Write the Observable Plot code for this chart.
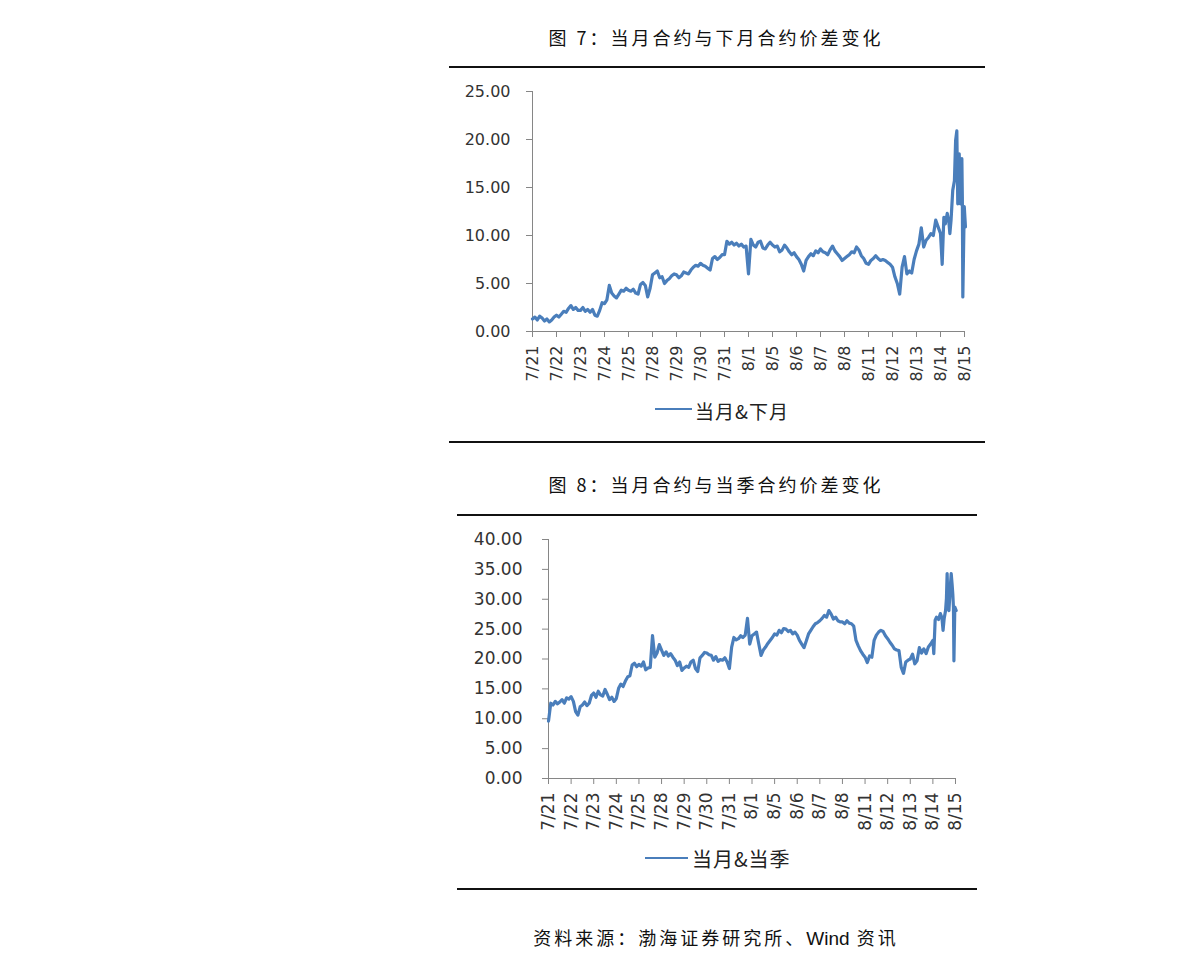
<!DOCTYPE html>
<html>
<head>
<meta charset="utf-8">
<script src="https://cdn.jsdelivr.net/npm/d3@7"></script>
<script src="https://cdn.jsdelivr.net/npm/@observablehq/plot@0.6"></script>
<style>
  html, body { margin: 0; padding: 0; background: #fff; }
  body { width: 1191px; height: 969px; position: relative; overflow: hidden; }
  .title { font-family: "Noto Sans CJK SC", sans-serif; font-size: 18px; letter-spacing: 3px; color: #111; white-space: pre; transform: translate(-50%, -50%); line-height: 1; }
  .tight { letter-spacing: 0; font-family: "Liberation Sans", sans-serif; font-size: 19px; }
  .rule { height: 0; border-top: 2px solid #111; }
  .legend { font-family: "Noto Sans CJK SC", sans-serif; color: #222; white-space: pre; line-height: 1; transform: translateY(-50%); letter-spacing: 1px; }
  .legline { height: 0; border-top: 2px solid #4A7EBB; }
</style>
</head>
<body>
<script>
// x-axis category labels (trading days)
const days = ["7/21","7/22","7/23","7/24","7/25","7/28","7/29","7/30","7/31","8/1","8/5","8/6","8/7","8/8","8/11","8/12","8/13","8/14","8/15"];

// 图7: 当月&下月 spread, sampled every 0.1 trading day from 7/21 through 8/13
const nextMonthSpread = [
  1.3,1.5,1.2,1.6,1.4,1.1,1.3,1.0,1.2,1.5,
  1.7,1.5,1.8,2.1,2.0,2.4,2.7,2.3,2.5,2.2,
  2.2,2.5,2.1,2.3,2.0,2.3,1.7,1.6,2.2,3.0,
  2.9,3.3,4.8,4.0,3.7,3.5,3.9,4.3,4.2,4.5,
  4.3,4.2,4.4,4.0,3.9,4.9,5.1,4.8,3.6,4.5,
  5.9,6.1,6.3,5.6,5.7,5.0,5.3,5.5,5.8,6.0,
  5.9,5.6,5.8,6.2,6.1,6.0,6.4,6.7,6.9,6.8,
  7.1,6.9,6.8,6.6,6.4,7.6,7.8,7.5,7.7,8.0,
  8.0,9.4,9.1,9.3,9.0,9.2,8.9,9.1,8.8,8.9,
  6.0,9.6,9.0,8.8,9.3,9.4,8.7,8.6,9.0,9.3,
  9.0,8.8,8.9,8.3,8.5,9.0,8.7,8.3,8.0,8.2,
  7.8,7.5,7.0,6.3,7.4,7.8,8.1,7.9,8.4,8.2,
  8.6,8.3,8.2,8.0,8.5,8.9,8.4,8.1,7.8,7.4,
  7.6,7.8,8.0,8.3,8.2,8.8,8.5,7.9,7.6,7.1,
  7.0,7.4,7.6,7.9,7.6,7.4,7.5,7.4,7.2,7.0,
  6.7,5.7,5.0,3.9,6.7,7.8,6.0,6.3,6.1,7.5,
  8.4,9.1,10.8,8.8,9.5,9.8,10.2,10.0,11.6,10.9
];
// 图7: last two sessions (8/14 – 8/15), [day position, value]
const nextMonthEnd = [
  [17.0,10.2],[17.07,7.0],[17.14,11.9],[17.2,11.2],[17.28,12.3],[17.35,11.4],[17.39,10.2],[17.44,11.6],
  [17.51,14.7],[17.58,15.7],[17.63,19.9],[17.68,20.9],[17.72,13.3],[17.75,16.0],[17.78,18.5],[17.83,13.3],
  [17.86,16.5],[17.89,18.0],[17.91,14.0],[17.93,3.6],[17.99,13.0],[18.04,10.9]
];

// 图8: 当月&当季 spread, sampled every 0.1 trading day from 7/21 through 8/13
const quarterSpread = [
  9.6,12.6,12.3,12.9,12.5,12.8,13.2,12.6,13.5,13.3,
  13.7,12.9,11.2,10.6,12.0,12.3,12.8,12.2,12.6,13.9,
  14.3,13.6,14.6,14.0,13.8,14.9,14.1,13.2,13.6,12.9,
  13.4,15.1,15.8,15.4,16.3,17.0,17.2,19.0,19.3,18.7,
  19.1,18.8,19.5,18.2,18.5,18.6,23.9,20.3,21.0,22.4,
  21.5,20.6,21.2,20.5,20.9,20.3,19.8,18.9,19.5,18.1,
  18.5,18.8,18.6,19.5,19.8,18.4,17.9,20.2,20.6,21.1,
  21.0,20.7,20.6,19.8,20.4,19.6,19.9,19.8,20.2,19.5,
  18.4,22.0,23.6,23.2,23.4,23.9,23.6,24.0,26.8,22.5,
  23.9,24.2,24.5,22.5,20.6,21.5,22.0,22.6,23.1,23.6,
  24.2,24.0,24.8,24.4,25.1,25.0,24.6,24.8,24.2,24.5,
  24.0,23.1,22.5,21.9,23.0,24.2,24.8,25.4,25.9,26.1,
  26.4,26.8,27.3,27.0,28.1,27.5,26.7,27.0,26.4,26.2,
  26.2,25.9,26.4,26.0,25.9,25.5,23.1,22.2,21.4,20.8,
  20.3,19.4,20.5,20.3,23.1,24.0,24.5,24.8,24.6,23.9,
  23.4,22.8,22.3,21.7,21.5,21.4,18.6,17.6,19.5,19.8,
  20.0,20.8,19.2,19.7,21.9,21.0,21.7,20.9,22.0,22.5
];
// 图8: last two sessions
const quarterEnd = [
  [17.0,23.1],[17.04,20.9],[17.1,26.5],[17.16,27.0],[17.25,26.6],[17.33,27.6],[17.4,26.9],[17.45,24.8],
  [17.5,26.8],[17.56,28.1],[17.6,30.2],[17.63,34.3],[17.67,28.5],[17.71,28.1],[17.76,31.5],[17.81,34.3],
  [17.85,32.5],[17.88,30.9],[17.91,28.6],[17.93,19.7],[17.97,28.7],[18.03,28.1]
];

const yTicks1 = [0,5,10,15,20,25];
const yTicks2 = [0,5,10,15,20,25,30,35,40];

function toRows(vals, tail) {
  return vals.map((v, i) => ({t: i / 10, v})).concat(tail.map(([t, v]) => ({t, v})));
}

const axisGray = "#868686";
const lineBlue = "#4A7EBB";

function chart(data, yTicks, opts) {
  return Plot.plot({
    width: 560,
    height: opts.height,
    marginLeft: opts.marginLeft,
    marginRight: opts.marginRight,
    marginTop: opts.marginTop,
    marginBottom: opts.marginBottom,
    style: {fontFamily: "DejaVu Sans", fontSize: opts.fontSize, color: "#333", background: "transparent", overflow: "visible"},
    x: {domain: [0, days.length - 1]},
    y: {domain: [yTicks[0], yTicks[yTicks.length - 1]]},
    marks: [
      Plot.axisY({ticks: yTicks, tickFormat: d3.format(".2f"), tickSize: 6, tickPadding: opts.yPad, stroke: axisGray, fill: "#333", label: null}),
      Plot.axisX({ticks: days.map((_, i) => i), tickFormat: i => days[i], tickSize: 6, tickPadding: opts.xPad, tickRotate: -90, stroke: axisGray, fill: "#333", label: null}),
      Plot.ruleX([0], {stroke: axisGray}),
      Plot.ruleY([yTicks[0]], {stroke: axisGray}),
      Plot.line(data, {x: "t", y: "v", stroke: lineBlue, strokeWidth: 3.2, strokeLinejoin: "round"})
    ]
  });
}

function place(el, left, top) {
  el.style.position = "absolute";
  el.style.left = left + "px";
  el.style.top = top + "px";
  document.body.appendChild(el);
  return el;
}
function div(cls, text) {
  const d = document.createElement("div");
  d.className = cls;
  if (text != null) d.textContent = text;
  return d;
}
function rule(left, top, width) {
  const r = div("rule");
  r.style.width = width + "px";
  place(r, left, top);
}

// Figure 7
place(div("title", "图 7：当月合约与下月合约价差变化"), 716, 37);
rule(449, 66, 536);
place(chart(toRows(nextMonthSpread, nextMonthEnd), yTicks1, {
  height: 311, marginLeft: 92, marginRight: 36, marginTop: 11, marginBottom: 60,
  fontSize: "16px", yPad: 16, xPad: 8
}), 440, 80);
{
  const l = div("legline"); l.style.width = "37px"; place(l, 655, 408);
  const t = div("legend", "当月&下月"); t.style.fontSize = "19px"; place(t, 695, 410);
}
rule(449, 441, 536);

// Figure 8
place(div("title", "图 8：当月合约与当季合约价差变化"), 716, 484);
rule(457, 514, 520);
place(chart(toRows(quarterSpread, quarterEnd), yTicks2, {
  height: 310, marginLeft: 108, marginRight: 45, marginTop: 11, marginBottom: 60,
  fontSize: "17px", yPad: 20, xPad: 8
}), 440, 528);
{
  const l = div("legline"); l.style.width = "43px"; place(l, 645, 857);
  const t = div("legend", "当月&当季"); t.style.fontSize = "20px"; place(t, 692, 859);
}
rule(457, 888, 520);

// Source
{
  const s = div("title");
  s.append("资料来源：渤海证券研究所、");
  const w = document.createElement("span");
  w.className = "tight";
  w.textContent = "Wind";
  s.append(w);
  s.append(" 资讯");
  place(s, 716, 938);
}
</script>
</body>
</html>
